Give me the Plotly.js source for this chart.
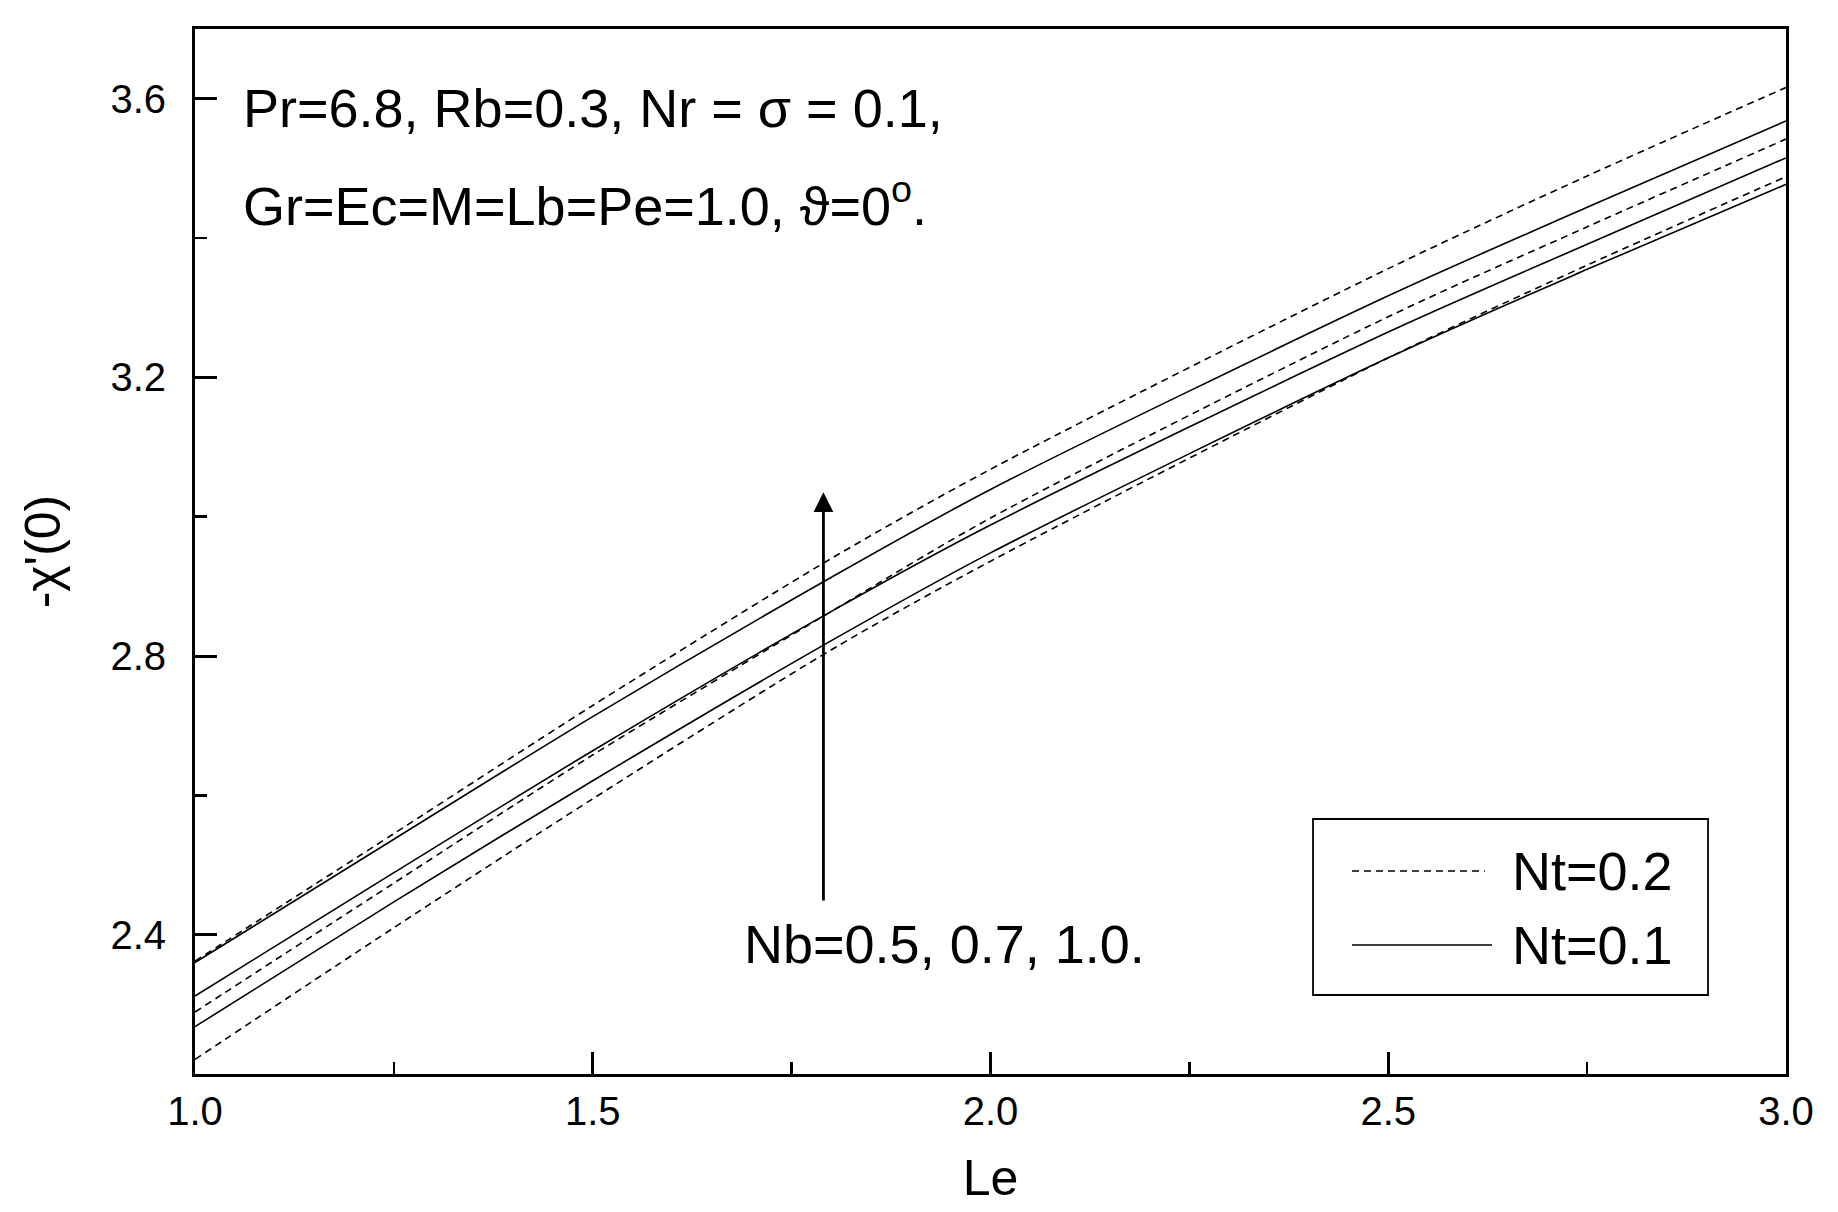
<!DOCTYPE html>
<html>
<head>
<meta charset="utf-8">
<script src="https://cdn.plot.ly/plotly-3.0.1.min.js"></script>
<style>
  html, body { margin: 0; padding: 0; background: #fff; }
  #chiPlot { width: 1838px; height: 1212px; }
</style>
</head>
<body>
<div id="chiPlot"></div>
<script>
var le = [1.0, 1.25, 1.5, 1.8, 2.0, 2.5, 2.75, 3.0];

// -chi'(0), Nt = 0.1 (solid)
var nt1Nb05 = [2.268, 2.447, 2.621, 2.822, 2.948, 3.228, 3.355, 3.477];
var nt1Nb07 = [2.312, 2.489, 2.664, 2.864, 2.988, 3.265, 3.391, 3.515];
var nt1Nb10 = [2.360, 2.537, 2.713, 2.913, 3.039, 3.317, 3.444, 3.568];

// -chi'(0), Nt = 0.2 (dashed)
var nt2Nb05 = [2.221, 2.410, 2.595, 2.809, 2.936, 3.228, 3.361, 3.488];
var nt2Nb07 = [2.289, 2.474, 2.658, 2.864, 2.998, 3.287, 3.416, 3.542];
var nt2Nb10 = [2.362, 2.545, 2.729, 2.940, 3.068, 3.356, 3.489, 3.616];

var fontName = '"Liberation Sans", Arial, sans-serif';

function curve(y, dashed, name)
{
  return {
    x: le,
    y: y,
    mode: 'lines',
    name: name,
    showlegend: false,
    line: { color: '#000', width: 1.6, dash: dashed ? '7px,5px' : 'solid', shape: 'spline', smoothing: 0.8 }
  };
}

var data = [
  curve(nt1Nb05, false, 'Nt=0.1, Nb=0.5'),
  curve(nt1Nb07, false, 'Nt=0.1, Nb=0.7'),
  curve(nt1Nb10, false, 'Nt=0.1, Nb=1.0'),
  curve(nt2Nb05, true, 'Nt=0.2, Nb=0.5'),
  curve(nt2Nb07, true, 'Nt=0.2, Nb=0.7'),
  curve(nt2Nb10, true, 'Nt=0.2, Nb=1.0')
];

var layout = {
  width: 1838,
  height: 1212,
  margin: { l: 195, r: 52, t: 29, b: 138 },
  paper_bgcolor: '#fff',
  plot_bgcolor: '#fff',
  font: { family: fontName, color: '#000', size: 39 },
  showlegend: false,
  xaxis: {
    range: [1.0, 3.0],
    tick0: 1.0,
    dtick: 0.5,
    tickformat: '.1f',
    ticks: 'inside',
    ticklen: 22,
    tickwidth: 3,
    tickcolor: '#000',
    minor: { dtick: 0.25, ticks: 'inside', ticklen: 12, tickwidth: 2.5, tickcolor: '#000' },
    ticklabelstandoff: 0,
    showgrid: false,
    zeroline: false,
    showline: true,
    linewidth: 3,
    linecolor: '#000',
    mirror: true,
    tickfont: { size: 40 },
    title: { text: 'Le', font: { size: 50 }, standoff: 28 }
  },
  yaxis: {
    range: [2.2, 3.7],
    tick0: 2.4,
    dtick: 0.4,
    tickformat: '.1f',
    ticks: 'inside',
    ticklen: 22,
    tickwidth: 3,
    tickcolor: '#000',
    minor: { dtick: 0.2, ticks: 'inside', ticklen: 12, tickwidth: 2.5, tickcolor: '#000' },
    ticklabelstandoff: 18,
    showgrid: false,
    zeroline: false,
    showline: true,
    linewidth: 3,
    linecolor: '#000',
    mirror: true,
    tickfont: { size: 40 },
    title: { text: '-χ\'(0)', font: { size: 50 }, standoff: 34 }
  },
  annotations: [
    { xref: 'x', yref: 'y', x: 1.058, y: 3.586, xanchor: 'left', yanchor: 'middle', showarrow: false,
      text: 'Pr=6.8, Rb=0.3, Nr = σ = 0.1,', font: { size: 54 } },
    { xref: 'x', yref: 'y', x: 1.058, y: 3.452, xanchor: 'left', yanchor: 'middle', showarrow: false,
      text: 'Gr=Ec=M=Lb=Pe=1.0, ϑ=0<sup>o</sup>.', font: { size: 54 } },
    { xref: 'x', yref: 'y', x: 1.942, y: 2.386, xanchor: 'center', yanchor: 'middle', showarrow: false,
      text: 'Nb=0.5, 0.7, 1.0.', font: { size: 54 } },
    { xref: 'x', yref: 'y', x: 1.79, y: 3.035, ax: 1.79, ay: 2.447, axref: 'x', ayref: 'y',
      text: '', showarrow: true, arrowhead: 2, arrowsize: 1.4, arrowwidth: 2.8, arrowcolor: '#000' },
    // legend labels
    { xref: 'paper', yref: 'paper', x: 0.8265, y: 0.1943, xanchor: 'left', yanchor: 'middle', showarrow: false,
      text: 'Nt=0.2', font: { size: 54 } },
    { xref: 'paper', yref: 'paper', x: 0.8265, y: 0.1234, xanchor: 'left', yanchor: 'middle', showarrow: false,
      text: 'Nt=0.1', font: { size: 54 } }
  ],
  shapes: [
    // legend frame and line samples
    { type: 'rect', xref: 'paper', yref: 'paper', x0: 0.7027, x1: 0.951, y0: 0.0756, y1: 0.244,
      line: { color: '#000', width: 1.8 }, fillcolor: 'rgba(0,0,0,0)' },
    { type: 'line', xref: 'paper', yref: 'paper', x0: 0.7272, x1: 0.8108, y0: 0.1943, y1: 0.1943,
      line: { color: '#000', width: 1.6, dash: '7px,5px' } },
    { type: 'line', xref: 'paper', yref: 'paper', x0: 0.7272, x1: 0.8152, y0: 0.1234, y1: 0.1234,
      line: { color: '#000', width: 1.6 } }
  ]
};

window.addEventListener('load', (event) => {
  Plotly.newPlot('chiPlot', data, layout, { displayModeBar: false, staticPlot: true });
});
</script>
</body>
</html>
